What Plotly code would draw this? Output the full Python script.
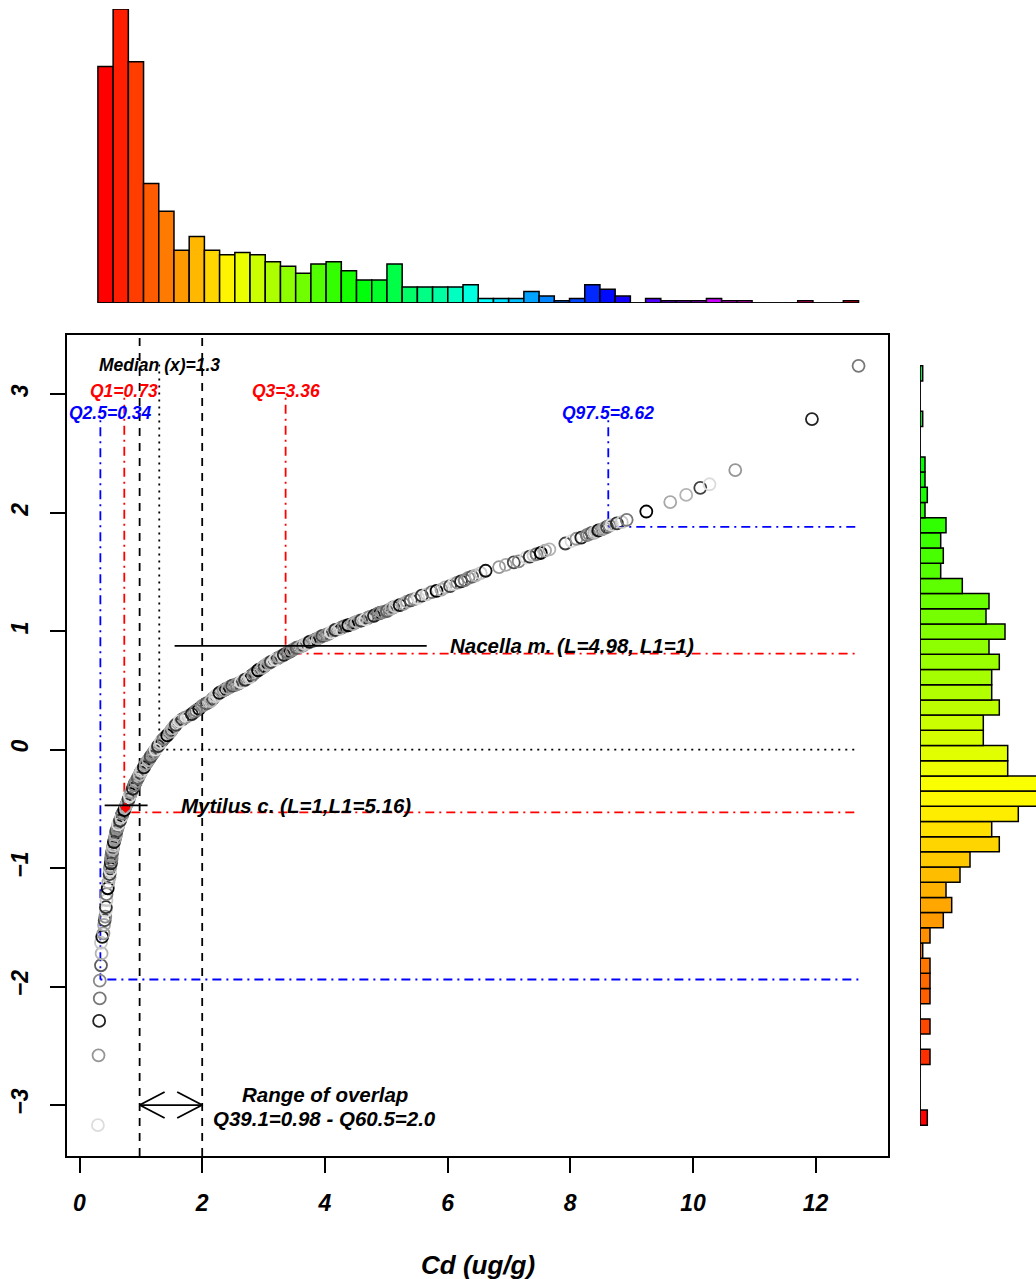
import colorsys
import plotly.graph_objects as go

W, H = 1036, 1279

# ---------------- data ----------------
cd_values = [
    0.30, 0.31, 0.32, 0.33, 0.33, 0.35, 0.36, 0.35, 0.37, 0.39, 0.40, 0.41, 0.42, 0.43, 0.43, 0.44, 0.44, 0.46, 0.47, 0.49,
    0.49, 0.50, 0.50, 0.51, 0.52, 0.52, 0.53, 0.54, 0.55, 0.56, 0.58, 0.59, 0.60, 0.62, 0.63, 0.66, 0.68, 0.70, 0.73, 0.75,
    0.78, 0.80, 0.82, 0.84, 0.87, 0.89, 0.92, 0.95, 0.98, 1.01, 1.05, 1.08, 1.12, 1.16, 1.20, 1.24, 1.28, 1.32, 1.37, 1.43,
    1.48, 1.52, 1.57, 1.63, 1.72, 1.83, 1.90,
    2.00, 2.07, 2.14, 2.21, 2.28, 2.35, 2.42, 2.49, 2.56, 2.63, 2.70, 2.77, 2.84, 2.91, 2.98, 3.05, 3.12, 3.19, 3.26, 3.33,
    3.40, 3.47, 3.54, 3.61, 3.68, 3.75, 3.82, 3.89, 3.96, 4.03, 4.10, 4.17, 4.24, 4.31, 4.38, 4.45, 4.52, 4.59, 4.66, 4.73,
    4.80, 4.87, 4.94, 5.01, 5.08, 5.15,
    5.22, 5.28, 5.34, 5.40, 5.46, 5.52, 5.58, 5.66, 5.74, 5.82, 5.90, 5.96, 6.04, 6.10, 6.16, 6.22, 6.28, 6.34, 6.40, 6.46,
    6.54, 6.62, 6.84, 6.95, 7.08, 7.16, 7.28, 7.34, 7.40, 7.45, 7.52, 7.59, 7.66, 7.92, 8.02, 8.10, 8.18, 8.27, 8.31, 8.35,
    8.39, 8.42, 8.46, 8.52, 8.56, 8.60, 8.64, 8.68, 8.76, 8.84, 8.92,
    9.24, 9.63, 9.89, 10.12, 10.27, 10.69, 11.94, 12.70,
]
normal_scores = [
    -3.17, -2.58, -2.29, -2.10, -1.95, -1.82, -1.72, -1.63, -1.58, -1.55, -1.48, -1.44, -1.41, -1.36, -1.33, -1.27, -1.22, -1.17, -1.12, -1.08,
    -1.05, -1.02, -0.99, -0.96, -0.93, -0.90, -0.87, -0.84, -0.81, -0.78, -0.75, -0.72, -0.69, -0.66, -0.63, -0.60, -0.57, -0.54, -0.51, -0.48,
    -0.45, -0.42, -0.39, -0.36, -0.33, -0.30, -0.27, -0.24, -0.21, -0.18, -0.15, -0.12, -0.09, -0.06, -0.03, 0.00, 0.03, 0.06, 0.09, 0.12,
    0.15, 0.18, 0.21, 0.24, 0.27, 0.30, 0.33,
    0.37, 0.39, 0.41, 0.45, 0.48, 0.50, 0.52, 0.54, 0.55, 0.57, 0.59, 0.61, 0.64, 0.67, 0.69, 0.72, 0.74, 0.76, 0.78, 0.80,
    0.82, 0.84, 0.86, 0.87, 0.89, 0.91, 0.92, 0.94, 0.96, 0.97, 0.99, 1.01, 1.02, 1.04, 1.05, 1.06, 1.08, 1.09, 1.10, 1.12,
    1.13, 1.15, 1.16, 1.17, 1.19, 1.21,
    1.22, 1.23, 1.25, 1.26, 1.27, 1.28, 1.30, 1.31, 1.33, 1.34, 1.35, 1.37, 1.38, 1.40, 1.41, 1.42, 1.43, 1.45, 1.46, 1.47,
    1.49, 1.51, 1.54, 1.56, 1.58, 1.59, 1.62, 1.63, 1.64, 1.65, 1.66, 1.68, 1.69, 1.74, 1.76, 1.78, 1.79, 1.81, 1.82, 1.83,
    1.83, 1.84, 1.85, 1.86, 1.87, 1.88, 1.89, 1.90, 1.91, 1.92, 1.94,
    2.01, 2.09, 2.15, 2.21, 2.24, 2.36, 2.79, 3.24,
]
# further points read inside the densely packed part of the band
band_cd = [
    0.495, 0.50, 0.505, 0.515, 0.52, 0.525, 0.535, 0.545, 0.555, 0.57, 0.585, 0.595, 0.61, 0.625, 0.645, 0.67, 0.69, 0.715,
    0.74, 0.765, 0.79, 0.81, 0.83, 0.855, 0.88, 0.905, 0.935, 0.965, 0.995, 1.03, 1.065, 1.10, 1.14, 1.18, 1.22, 1.26,
    1.30, 1.345, 1.40, 1.455, 1.50, 1.545, 1.60, 1.675, 1.775, 1.865, 1.95,
    2.035, 2.105, 2.175, 2.245, 2.315, 2.385, 2.455, 2.525, 2.595, 2.665, 2.735, 2.805, 2.875, 2.945, 3.015, 3.085, 3.155,
    3.225, 3.295, 3.365, 3.435, 3.505, 3.575, 3.645, 3.715, 3.785, 3.855, 3.925, 3.995, 4.065, 4.135, 4.205, 4.275, 4.345,
    4.415, 4.485, 4.555, 4.625, 4.695, 4.765, 4.835, 4.905, 4.975, 5.045, 5.115,
]
band_scores = [
    -1.035, -1.005, -0.975, -0.945, -0.915, -0.885, -0.855, -0.825, -0.795, -0.765, -0.735, -0.705, -0.675, -0.645, -0.615,
    -0.585, -0.555, -0.525, -0.495, -0.465, -0.435, -0.405, -0.375, -0.345, -0.315, -0.285, -0.255, -0.225, -0.195, -0.165,
    -0.135, -0.105, -0.075, -0.045, -0.015, 0.015, 0.045, 0.075, 0.105, 0.135, 0.165, 0.195, 0.225, 0.255, 0.285, 0.315, 0.345,
    0.38, 0.40, 0.43, 0.465, 0.49, 0.51, 0.53, 0.545, 0.56, 0.58, 0.60, 0.625, 0.655, 0.68, 0.705, 0.73, 0.75, 0.77, 0.79,
    0.81, 0.83, 0.85, 0.865, 0.88, 0.90, 0.915, 0.93, 0.95, 0.965, 0.98, 1.00, 1.015, 1.03, 1.045, 1.055, 1.07, 1.085, 1.095,
    1.11, 1.125, 1.14, 1.155, 1.165, 1.18, 1.20,
]

# top histogram (Cd), 50 bins, counts from left to right
top_hist_counts = [103, 128, 105, 52, 40, 23, 29, 23, 21, 22, 21, 18, 16, 13, 17, 18, 14, 10, 10, 17,
                   7, 7, 7, 7, 8, 2, 2, 2, 5, 3, 1, 2, 8, 6, 3, 0, 2, 1, 1, 1,
                   2, 1, 1, 0, 0, 0, 1, 0, 0, 1]
# right histogram (normal scores), 50 bins, frequencies from top to bottom
right_hist_freq = [2.7, 0, 0, 2.7, 0, 0, 5, 5, 7.3, 5, 26, 20.7, 23.3, 20.7, 42.3, 69, 66, 85, 69, 79.3,
                   71.7, 71.7, 79.3, 63.3, 63.3, 87.7, 87.7, 125, 125, 98.3, 71.7, 79.3, 50, 40, 26, 31.7, 23.3, 10, 2.7, 10,
                   10, 10, 0, 10, 0, 10, 0, 0, 0, 7.3]

quantile_labels = ["Q2.5=0.34", "Q1=0.73", "Q3=3.36", "Q97.5=8.62"]
quantile_x = [0.34, 0.73, 3.36, 8.62]
quantile_y = [-1.94, -0.53, 0.81, 1.88]
median_x = 1.3
overlap_x = [0.98, 2.0]
overlap_labels = ["Range of overlap", "Q39.1=0.98 - Q60.5=2.0"]

species_labels = ["Mytilus c. (L=1,L1=5.16)", "Nacella m. (L=4.98, L1=1)"]
species_y = [-0.47, 0.876]
species_x0 = [0.41, 1.55]
species_x1 = [1.11, 5.66]
highlight_x = [0.75]
highlight_y = [-0.49]

# ---------------- layout geometry ----------------
X_RANGE = [-0.204, 13.18]
Y_RANGE = [-3.43, 3.5]
main_xdom = [67 / W, 888 / W]
main_ydom = [1 - 1156 / H, 1 - 335 / H]
top_ydom = [1 - 303 / H, 1 - 9 / H]
right_xdom = [920 / W, 1.0]

px_per_x = (888 - 67) / (X_RANGE[1] - X_RANGE[0])
px_per_y = (1156 - 335) / (Y_RANGE[1] - Y_RANGE[0])

FONT = "Liberation Sans"


def tfont(size, color="black"):
    return dict(family=FONT, size=size, color=color, weight="bold", style="italic")


GREYS = ["#000000", "#8a8a8a", "#404040", "#c8c8c8", "#222222", "#a8a8a8", "#5e5e5e",
         "#dcdcdc", "#111111", "#777777", "#4a4a4a", "#b4b4b4", "#303030", "#969696"]

all_cd = band_cd + cd_values
all_scores = band_scores + normal_scores
point_colors = [GREYS[(i * 5 + i // 3 + 7) % len(GREYS)] for i in range(len(all_cd))]

fig = go.Figure()

# ---- top histogram ----
nb = len(top_hist_counts)
xmin, xmax = min(cd_values), max(cd_values)
bw = (xmax - xmin) / nb
top_centers = [xmin + bw * (i + 0.5) for i in range(nb)]
top_colors = []
for i in range(nb):
    r, g, b = colorsys.hsv_to_rgb(i / nb, 1, 1)
    top_colors.append(f"rgb({int(r*255)},{int(g*255)},{int(b*255)})")
fig.add_trace(go.Bar(x=top_centers, y=top_hist_counts, width=bw, xaxis="x2", yaxis="y2",
                     marker=dict(color=top_colors, line=dict(color="black", width=1.5)),
                     showlegend=False, hoverinfo="skip"))

# ---- right histogram ----
nr = len(right_hist_freq)
ymin, ymax = min(normal_scores), max(normal_scores)
bh = (ymax - ymin) / nr
freq_bottom_up = right_hist_freq[::-1]
right_centers = [ymin + bh * (j + 0.5) for j in range(nr)]
right_colors = []
for j in range(nr):
    r, g, b = colorsys.hsv_to_rgb(j * 2.79 / 360.0, 1, 1)
    right_colors.append(f"rgb({int(r*255)},{int(g*255)},{int(b*255)})")
fig.add_trace(go.Bar(y=right_centers, x=freq_bottom_up, width=bh, orientation="h", xaxis="x3", yaxis="y3",
                     marker=dict(color=right_colors, line=dict(color="black", width=1.5)),
                     showlegend=False, hoverinfo="skip"))

# ---- scatter ----
fig.add_trace(go.Scatter(x=all_cd, y=all_scores, mode="markers",
                         marker=dict(symbol="circle-open", size=12, color=point_colors, line=dict(width=1.8)),
                         showlegend=False, hoverinfo="skip"))
fig.add_trace(go.Scatter(x=highlight_x, y=highlight_y, mode="markers",
                         marker=dict(symbol="diamond", size=8, color="red"),
                         showlegend=False, hoverinfo="skip"))

shapes = []
DASHED = "8px,7px"
DOTTED = "2px,5px"
DOTDASH = "2px,5px,9px,5px"
LW = 1.8

# histogram base lines
shapes.append(dict(type="line", xref="x2", yref="y2", x0=xmin, x1=xmax, y0=0, y1=0,
                   line=dict(color="black", width=1.5)))
shapes.append(dict(type="line", xref="x3", yref="y3", x0=0, x1=0, y0=ymin, y1=ymax,
                   line=dict(color="black", width=1.5)))

# overlap dashed lines (full height)
for xv in overlap_x:
    shapes.append(dict(type="line", xref="x", yref="paper", x0=xv, x1=xv, y0=main_ydom[0], y1=main_ydom[1],
                       line=dict(color="black", width=LW, dash=DASHED), layer="below"))

# median
median_label_y = 3.25
shapes.append(dict(type="line", xref="x", yref="y", x0=median_x, x1=median_x, y0=median_label_y, y1=0,
                   line=dict(color="black", width=LW, dash=DOTTED), layer="below"))
shapes.append(dict(type="line", xref="x", yref="y", x0=median_x, x1=xmax, y0=0, y1=0,
                   line=dict(color="black", width=LW, dash=DOTTED), layer="below"))

# quantiles
q_colors = ["blue", "red", "red", "blue"]
q_label_y = [2.84, 3.03, 3.03, 2.84]
q_xshift = [10, 0, 0, 0]
annotations = []
for lab, qx, qy, col, ly, xs in zip(quantile_labels, quantile_x, quantile_y, q_colors, q_label_y, q_xshift):
    shapes.append(dict(type="line", xref="x", yref="y", x0=qx, x1=qx, y0=ly - 0.06, y1=qy,
                       line=dict(color=col, width=LW, dash=DOTDASH), layer="below"))
    shapes.append(dict(type="line", xref="x", yref="y", x0=qx, x1=xmax, y0=qy, y1=qy,
                       line=dict(color=col, width=LW, dash=DOTDASH), layer="below"))
    annotations.append(dict(x=qx, y=ly, xref="x", yref="y", text=lab, showarrow=False,
                            xanchor="center", yanchor="middle", xshift=xs, font=tfont(17.5, col)))
annotations.append(dict(x=median_x, y=median_label_y, xref="x", yref="y", text="Median (x)=1.3",
                        showarrow=False, xanchor="center", yanchor="middle", font=tfont(17.5)))

# species segments
sp_xshift = [31, 21]
for lab, sy, s0, s1, xs in zip(species_labels, species_y, species_x0, species_x1, sp_xshift):
    shapes.append(dict(type="line", xref="x", yref="y", x0=s0, x1=s1, y0=sy, y1=sy,
                       line=dict(color="black", width=LW)))
    annotations.append(dict(x=s1, y=sy, xref="x", yref="y", text=lab, showarrow=False,
                            xanchor="left", yanchor="middle", xshift=xs, font=tfont(20.5)))

# overlap arrow
arrow_y = -3.0
hx = 25 / px_per_x
hy = 13 / px_per_y
a0, a1 = overlap_x
shapes.append(dict(type="line", xref="x", yref="y", x0=a0, x1=a1, y0=arrow_y, y1=arrow_y,
                   line=dict(color="black", width=LW)))
for tip, sgn in ((a0, 1), (a1, -1)):
    for dy in (hy, -hy):
        shapes.append(dict(type="line", xref="x", yref="y", x0=tip, x1=tip + sgn * hx,
                           y0=arrow_y, y1=arrow_y + dy, line=dict(color="black", width=LW)))
annotations.append(dict(x=4.0, y=-2.91, xref="x", yref="y", text=overlap_labels[0], showarrow=False,
                        xanchor="center", yanchor="middle", font=tfont(20.5)))
annotations.append(dict(x=4.0, y=-3.11, xref="x", yref="y", text=overlap_labels[1], showarrow=False,
                        xanchor="center", yanchor="middle", font=tfont(20.5)))

# x-axis title
annotations.append(dict(x=(main_xdom[0] + main_xdom[1]) / 2, y=1 - 1265 / H, xref="paper", yref="paper",
                        text="Cd (ug/g)", showarrow=False, xanchor="center", yanchor="middle", font=tfont(26)))

fig.update_layout(
    width=W, height=H, margin=dict(l=0, r=0, t=0, b=0),
    paper_bgcolor="white", plot_bgcolor="white", showlegend=False,
    shapes=shapes, annotations=annotations,
    xaxis=dict(domain=main_xdom, range=X_RANGE, anchor="y", tickvals=[0, 2, 4, 6, 8, 10, 12],
               ticks="outside", ticklen=15, tickwidth=1.5, tickcolor="black",
               showline=True, mirror=True, linecolor="black", linewidth=1.5,
               showgrid=False, zeroline=False, tickfont=tfont(23), ticklabelstandoff=11),
    yaxis=dict(domain=main_ydom, range=Y_RANGE, anchor="x", tickvals=[-3, -2, -1, 0, 1, 2, 3],
               ticks="outside", ticklen=15, tickwidth=1.5, tickcolor="black", tickangle=-90,
               showline=True, mirror=True, linecolor="black", linewidth=1.5,
               showgrid=False, zeroline=False, tickfont=tfont(23), ticklabelstandoff=13),
    xaxis2=dict(domain=main_xdom, range=X_RANGE, anchor="y2", visible=False),
    yaxis2=dict(domain=top_ydom, range=[0, 128], anchor="x2", visible=False),
    xaxis3=dict(domain=right_xdom, range=[0, 116], anchor="y3", visible=False),
    yaxis3=dict(domain=main_ydom, range=Y_RANGE, anchor="x3", visible=False),
)

fig.write_html("out.html", config={"displayModeBar": False},
               post_script="document.body.style.margin='0';document.body.style.overflow='hidden';")
